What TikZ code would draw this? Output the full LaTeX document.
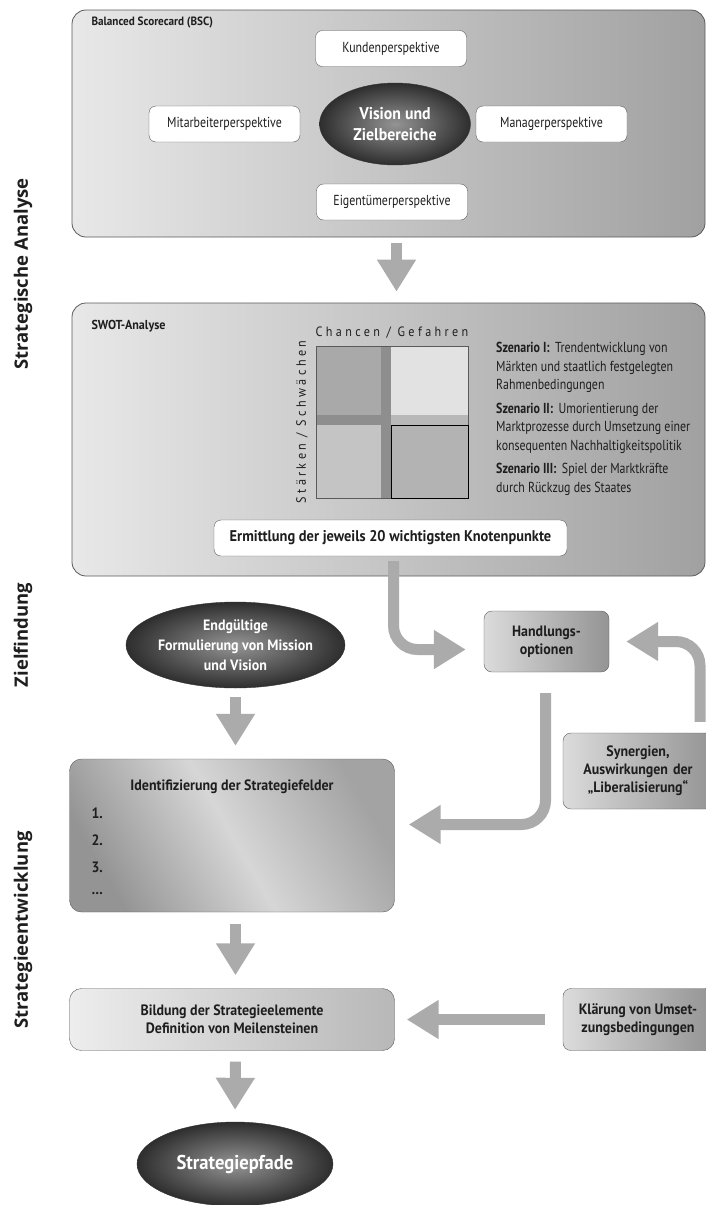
\documentclass[tikz,border=0pt]{standalone}
\usepackage{fontspec}
\setmainfont{PT Sans}[FakeStretch=0.93]
\newfontfamily\narrowfont{PT Sans}[FakeStretch=0.82]
\newfontfamily\sidefont{Open Sans}
\newfontfamily\spacedfont{PT Sans}[FakeStretch=0.9,LetterSpace=25]
\usetikzlibrary{arrows.meta, positioning, shapes.geometric, calc}
\definecolor{ArrowGray}{HTML}{ABABAB}
\definecolor{FrameLine}{HTML}{5A5A5A}
\definecolor{TxtDark}{HTML}{1E1E1E}
\definecolor{QuadA}{HTML}{A9A9A9}
\definecolor{QuadB}{HTML}{E2E2E2}
\definecolor{QuadC}{HTML}{C4C4C4}
\definecolor{QuadD}{HTML}{B3B3B3}
\definecolor{BandDark}{HTML}{8E8E8E}
\definecolor{BandLight}{HTML}{B8B8B8}

\tikzset{
  frame/.style={draw=FrameLine, line width=0.8pt, rounded corners=14pt, left color=black!9, right color=black!37},
  persp/.style={draw=FrameLine, rounded corners=7pt, fill=white, minimum width=151pt, minimum height=36pt, text=TxtDark, font=\narrowfont\fontsize{14.5}{16}\selectfont},
  core/.style={ellipse, draw=black!80, inner color=black!42, outer color=black!82, text=white, inner sep=0pt, align=center, font=\fontsize{15}{20}\selectfont\bfseries},
  greybox/.style={draw=FrameLine, rounded corners=8pt, left color=black!14, right color=black!42, text=TxtDark, align=center, font=\fontsize{15}{18}\selectfont\bfseries},
  flow/.style={draw=ArrowGray, line width=11pt, -{Triangle[width=37pt,length=32pt]}},
  sidelabel/.style={rotate=90, text=TxtDark, font=\sidefont\fontsize{18.5}{20}\selectfont\bfseries},
}

\begin{document}
\begin{tikzpicture}[x=1pt, y=-1pt]
    \useasboundingbox (0,0) rectangle (706,1205);

    % Phase labels
    \node[sidelabel] (phaseA) at (23,274) {Strategische Analyse};
    \node[sidelabel] (phaseB) at (23,635) {Zielfindung};
    \node[sidelabel] (phaseC) at (23,930) {Strategieentwicklung};

    % BSC
    \node[frame, minimum width=633pt, minimum height=227pt] (bsc) at (388.5,123.5) {};
    \node[anchor=west, text=TxtDark, font=\fontsize{12}{15}\selectfont\bfseries] (bsctitle) at (88,23) {Balanced Scorecard (BSC)};
    \node[core, minimum width=151pt, minimum height=82pt, font=\fontsize{17}{21}\selectfont\bfseries] (vision) at (395,124) {Vision und\\Zielbereiche};
    \node[persp] (kunden) at (391,48.5) {Kundenperspektive};
    \node[persp] (mitarb) at (224.5,124) {Mitarbeiterperspektive};
    \node[persp] (manager) at (551.5,124) {Managerperspektive};
    \node[persp] (eigen) at (392,202) {Eigentümerperspektive};

    % SWOT
    \node[frame, minimum width=633pt, minimum height=273pt] (swot) at (388.5,439.5) {};
    \node[anchor=west, text=TxtDark, font=\fontsize{13}{15}\selectfont\bfseries] (swottitle) at (88,326) {SWOT-Analyse};

    % matrix
    \fill[QuadB] (391,346) rectangle (468,425);
    \fill[QuadA] (316,346) rectangle (391,425);
    \fill[QuadC] (316,425) rectangle (391,498);
    \fill[QuadD] (391,425) rectangle (468,498);
    \fill[BandDark] (316,415) rectangle (391,425);
    \fill[BandLight] (391,415) rectangle (468,425);
    \fill[BandDark] (381,346) rectangle (391,498);
    \draw[FrameLine] (316,346) rectangle (468,498);
    \draw[black] (391,425) rectangle (468,498);
    \node[text=TxtDark, font=\spacedfont\fontsize{13.5}{15}\selectfont] (chancen) at (392,333) {Chancen / Gefahren};
    \node[rotate=90, text=TxtDark, font=\spacedfont\fontsize{13.5}{15}\selectfont] (staerken) at (302,422) {Stärken / Schwächen};

    \node[anchor=north west, align=left, inner sep=0pt, text=TxtDark, font=\narrowfont\fontsize{14.5}{18.5}\selectfont] (szen) at (496,342)
      {\textbf{Szenario I:}\, Trendentwicklung von\\ Märkten und staatlich festgelegten\\ Rahmenbedingungen\\[5pt]
       \textbf{Szenario II:}\, Umorientierung der\\ Marktprozesse durch Umsetzung einer\\ konsequenten Nachhaltigkeitspolitik\\[5pt]
       \textbf{Szenario III:}\, Spiel der Marktkräfte\\ durch Rückzug des Staates};

    \node[persp, minimum width=353pt, font=\fontsize{15.5}{17}\selectfont\bfseries] (erm) at (390.5,538) {Ermittlung der jeweils 20 wichtigsten Knotenpunkte};

    % Zielfindung
    \node[core, minimum width=197pt, minimum height=86pt] (mission) at (235.5,645) {Endgültige\\Formulierung von Mission\\und Vision};
    \node[greybox, minimum width=125pt, minimum height=61pt] (hand) at (546.5,641.5) {Handlungs-\\optionen};
    \node[greybox, minimum width=150pt, minimum height=76pt, text width=140pt] (syn) at (638,771) {Synergien,\\Auswirkungen der\\„Liberalisierung“};

    % Strategieentwicklung
    \node[draw=FrameLine, rounded corners=12pt, minimum width=325pt, minimum height=153pt,
          left color=black!42, right color=black!36, middle color=black!16, shading angle=120] (ident) at (232,835.5) {};
    \node[text=TxtDark, font=\fontsize{15}{17}\selectfont\bfseries] (identtitle) at (232,787) {Identifizierung der Strategiefelder};
    \foreach \t [count=\i] in {1.,2.,3.,\dots}
        \node[anchor=west, text=TxtDark, font=\fontsize{15}{17}\selectfont\bfseries] (item\i) at (88,786+27*\i) {\t};

    \node[greybox, rounded corners=12pt, minimum width=325pt, minimum height=62pt, left color=black!7, right color=black!28] (bild) at (232,1019.5)
      {Bildung der Strategieelemente\\Definition von Meilensteinen};
    \node[greybox, minimum width=150pt, minimum height=62pt] (klaer) at (638,1019.5) {Klärung von Umset-\\zungsbedingungen};
    \node[core, minimum width=196pt, minimum height=84pt, font=\fontsize{20}{22}\selectfont\bfseries] (pfade) at (235,1164) {Strategiepfade};

    % Arrows
    \draw[flow, shorten <=6pt, shorten >=11pt] ([xshift=8pt]bsc.south) -- ([xshift=8pt]swot.north);
    \draw[flow, rounded corners=24pt] ([xshift=3pt,yshift=-5pt]erm.south) |- ([xshift=-18pt,yshift=-8pt]hand.west);
    \draw[flow, rounded corners=24pt] ([xshift=62pt,yshift=11pt]syn.north) |- ([xshift=17pt]hand.east);
    \draw[flow, rounded corners=24pt] ([xshift=-1pt,yshift=-21pt]hand.south) |- ([xshift=14pt,yshift=11pt]ident.east);
    \draw[flow, shorten <=9pt, shorten >=13pt] (mission.south) -- (mission.south |- ident.north);
    \draw[flow, shorten <=12pt, shorten >=13pt] (mission.south |- ident.south) -- (mission.south |- bild.north);
    \draw[flow, shorten <=18pt, shorten >=12pt] (klaer.west) -- (bild.east);
    \draw[flow, shorten <=11pt, shorten >=12pt] (mission.south |- bild.south) -- (pfade.north);
\end{tikzpicture}
\end{document}
